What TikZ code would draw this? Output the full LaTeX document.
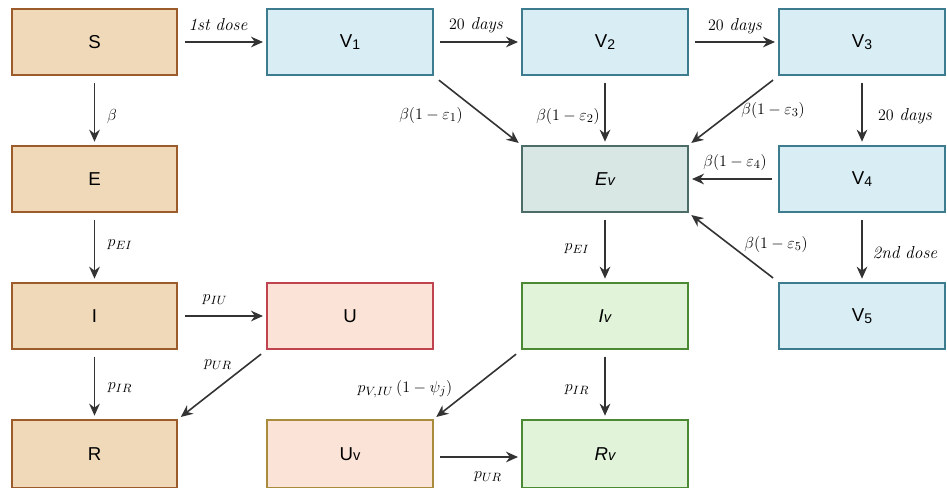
\documentclass[tikz,border=0pt]{standalone}
\usepackage{fontspec}
\setsansfont{Liberation Sans}
\usetikzlibrary{arrows.meta}
\definecolor{tanfill}{HTML}{EFD9B9}
\definecolor{tanline}{HTML}{9C5B2A}
\definecolor{bluefill}{HTML}{D9EEF4}
\definecolor{blueline}{HTML}{3D7C8E}
\definecolor{evfill}{HTML}{D8E6E4}
\definecolor{evline}{HTML}{4D6B67}
\definecolor{pinkfill}{HTML}{FBE3D7}
\definecolor{redline}{HTML}{C04450}
\definecolor{goldline}{HTML}{A88C3C}
\definecolor{greenfill}{HTML}{E1F3D9}
\definecolor{greenline}{HTML}{4B8A32}
\definecolor{arrowc}{HTML}{333333}
\newcommand{\subv}{{\fontsize{11}{13}\selectfont v}}
\newcommand{\subn}[1]{\raisebox{-1.5pt}{\fontsize{10.5}{12}\selectfont #1}}
\tikzset{
  box/.style={draw, line width=1.5pt, minimum width=124pt, minimum height=49.5pt,
    inner sep=0pt, font=\sffamily\fontsize{14}{16}\selectfont},
  tanbox/.style={box, fill=tanfill, draw=tanline},
  bluebox/.style={box, fill=bluefill, draw=blueline},
  evbox/.style={box, fill=evfill, draw=evline},
  ubox/.style={box, fill=pinkfill, draw=redline},
  uvbox/.style={box, fill=pinkfill, draw=goldline},
  greenbox/.style={box, fill=greenfill, draw=greenline},
  flow/.style={draw=arrowc, line width=1.2pt, -{Stealth[length=9pt,width=8pt]},
    shorten <=5pt, shorten >=2.5pt},
  lab/.style={font=\fontsize{13}{15}\selectfont, inner sep=0pt}
}
\begin{document}
\begin{tikzpicture}[x=0.75pt,y=-0.75pt]
\useasboundingbox (0,0) rectangle (947,487);
% boxes
\node[tanbox] (S) at (94.5,42) {S};
\node[tanbox] (E) at (94.5,179) {E};
\node[tanbox] (I) at (94.5,316) {I};
\node[tanbox, minimum height=51pt] (R) at (94.5,454) {R};
\node[bluebox] (V1) at (350,42) {V\subn{1}};
\node[bluebox] (V2) at (605,42) {V\subn{2}};
\node[bluebox] (V3) at (862,42) {V\subn{3}};
\node[bluebox] (V4) at (862,179) {V\subn{4}};
\node[bluebox] (V5) at (862,316) {V\subn{5}};
\node[evbox] (Ev) at (605,179) {\itshape E\subv};
\node[ubox] (U) at (350,316) {U};
\node[greenbox] (Iv) at (605,316) {\itshape I\subv};
\node[uvbox, minimum height=51pt] (Uv) at (350,454) {U\subv};
\node[greenbox, minimum height=51pt] (Rv) at (605,454) {\itshape R\subv};
% arrows
\draw[flow] (S) -- (V1);
\draw[flow] (V1) -- (V2);
\draw[flow] (V2) -- (V3);
\draw[flow] (S) -- (E);
\draw[flow] (E) -- (I);
\draw[flow] (I) -- (U);
\draw[flow] (I) -- (R);
\draw[flow] (U.south west) -- (R.north east);
\draw[flow] (V1.south east) -- (Ev.north west);
\draw[flow] (V2) -- (Ev);
\draw[flow] (V3.south west) -- (Ev.north east);
\draw[flow] (V3) -- (V4);
\draw[flow] (V4) -- (Ev);
\draw[flow] (V4) -- (V5);
\draw[flow] (V5.north west) -- (Ev.south east);
\draw[flow] (Ev) -- (Iv);
\draw[flow] (Iv) -- (Rv);
\draw[flow] (Iv.south west) -- (Uv.north east);
\draw[flow] (Uv.east |- 0,457) -- (Rv.west |- 0,457);
% labels
\node[lab] (l1) at (218,25) {$\mathit{1st\ dose}$};
\node[lab] (l2) at (476,25) {$20\ \mathit{days}$};
\node[lab] (l3) at (735,26) {$20\ \mathit{days}$};
\node[lab] (l4) at (112,116) {$\beta$};
\node[lab] (l5) at (120,245) {$p_{EI}$};
\node[lab] (l6) at (215,300) {$p_{IU}$};
\node[lab] (l7) at (120,388) {$p_{IR}$};
\node[lab] (l8) at (218,365) {$p_{UR}$};
\node[lab] (l9) at (431,115) {$\beta(1-\varepsilon_1)$};
\node[lab] (l10) at (568,116) {$\beta(1-\varepsilon_2)$};
\node[lab] (l11) at (773,110) {$\beta(1-\varepsilon_3)$};
\node[lab] (l12) at (905,116) {$20\ \mathit{days}$};
\node[lab] (l13) at (735,162) {$\beta(1-\varepsilon_4)$};
\node[lab] (l14) at (776,244) {$\beta(1-\varepsilon_5)$};
\node[lab] (l15) at (905,253) {$\mathit{2nd\ dose}$};
\node[lab] (l16) at (577,249) {$p_{EI}$};
\node[lab] (l17) at (405,389) {$p_{V,IU}\,(1-\psi_j)$};
\node[lab] (l18) at (577,390) {$p_{IR}$};
\node[lab] (l19) at (488,477) {$p_{UR}$};
\end{tikzpicture}
\end{document}
